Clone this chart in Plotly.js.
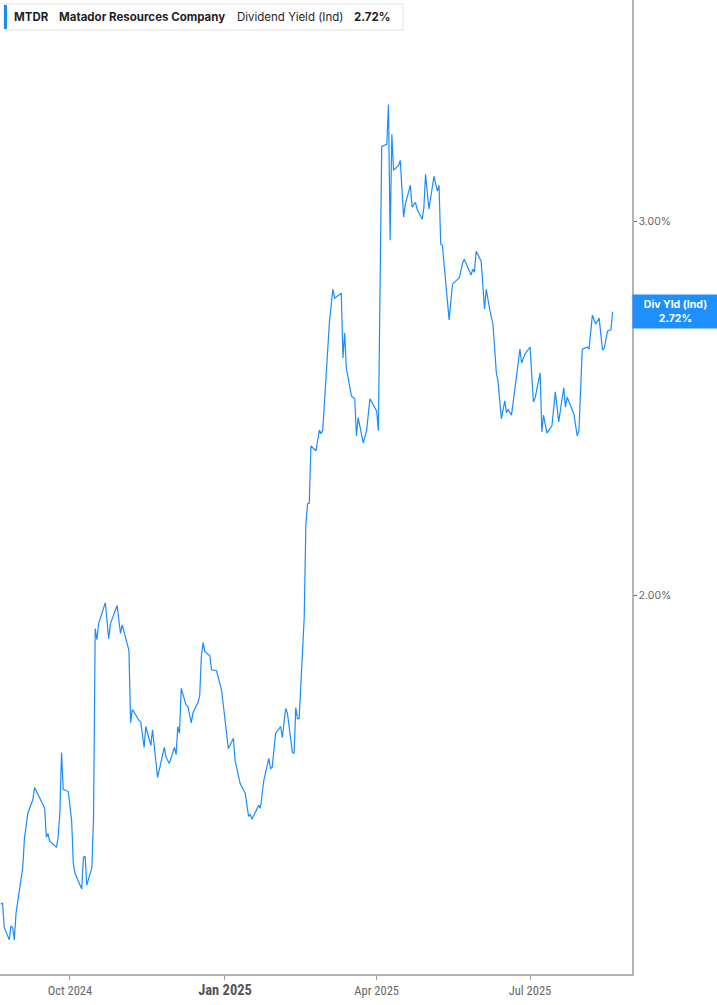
<!DOCTYPE html>
<html>
<head>
<meta charset="utf-8">
<script src="https://cdn.plot.ly/plotly-3.0.1.min.js"></script>
<style>
  html, body { margin: 0; padding: 0; background: #fff; }
  #chart { width: 717px; height: 1005px; }
</style>
</head>
<body>
<div id="chart"></div>
<script>
// MTDR dividend yield (indicated)
const dates = [
  "2024-08-21","2024-08-22","2024-08-23","2024-08-26","2024-08-27","2024-08-28","2024-08-29","2024-08-30",
  "2024-09-03","2024-09-04","2024-09-06","2024-09-09","2024-09-10","2024-09-16","2024-09-17","2024-09-18",
  "2024-09-19","2024-09-20","2024-09-23","2024-09-24","2024-09-25","2024-09-26","2024-09-27","2024-09-30",
  "2024-10-02","2024-10-03","2024-10-04","2024-10-08","2024-10-09","2024-10-10","2024-10-11","2024-10-14",
  "2024-10-15","2024-10-16","2024-10-17","2024-10-18","2024-10-22","2024-10-24","2024-10-25","2024-10-29",
  "2024-10-31","2024-11-01","2024-11-05","2024-11-06","2024-11-07","2024-11-08","2024-11-11","2024-11-12",
  "2024-11-14","2024-11-15","2024-11-18","2024-11-19","2024-11-22","2024-11-26","2024-11-27","2024-11-29",
  "2024-12-02","2024-12-03","2024-12-04","2024-12-05","2024-12-06","2024-12-09","2024-12-10","2024-12-12",
  "2024-12-13","2024-12-16","2024-12-17","2024-12-18","2024-12-19","2024-12-20","2024-12-23","2024-12-24",
  "2024-12-27","2024-12-30","2025-01-03","2025-01-06","2025-01-07","2025-01-10","2025-01-13","2025-01-15",
  "2025-01-16","2025-01-17","2025-01-21","2025-01-22","2025-01-24","2025-01-27","2025-01-28","2025-01-29",
  "2025-01-31","2025-02-03","2025-02-04","2025-02-06","2025-02-07","2025-02-10","2025-02-11","2025-02-12",
  "2025-02-13","2025-02-14","2025-02-17","2025-02-18","2025-02-19","2025-02-20","2025-02-21","2025-02-24",
  "2025-02-26","2025-02-27","2025-02-28","2025-03-04","2025-03-06","2025-03-07","2025-03-11","2025-03-12",
  "2025-03-13","2025-03-14","2025-03-17","2025-03-19","2025-03-20","2025-03-21","2025-03-24","2025-03-26",
  "2025-03-28","2025-03-31","2025-04-01","2025-04-02","2025-04-04","2025-04-07","2025-04-08","2025-04-09",
  "2025-04-10","2025-04-11","2025-04-14","2025-04-15","2025-04-17","2025-04-18","2025-04-21","2025-04-22",
  "2025-04-24","2025-04-25","2025-04-28","2025-04-29","2025-04-30","2025-05-02","2025-05-05","2025-05-07",
  "2025-05-08","2025-05-09","2025-05-10","2025-05-12","2025-05-14","2025-05-16","2025-05-20","2025-05-22",
  "2025-05-23","2025-05-27","2025-05-28","2025-05-29","2025-05-30","2025-06-02","2025-06-04","2025-06-05",
  "2025-06-07","2025-06-09","2025-06-11","2025-06-12","2025-06-14","2025-06-16","2025-06-17","2025-06-18",
  "2025-06-20","2025-06-23","2025-06-25","2025-06-26","2025-06-28","2025-07-01","2025-07-03","2025-07-04",
  "2025-07-07","2025-07-08","2025-07-09","2025-07-11","2025-07-14","2025-07-16","2025-07-18","2025-07-21",
  "2025-07-22","2025-07-23","2025-07-25","2025-07-27","2025-07-29","2025-07-30","2025-08-01","2025-08-04",
  "2025-08-05","2025-08-07","2025-08-09","2025-08-11","2025-08-13","2025-08-14","2025-08-16","2025-08-18",
  "2025-08-19"
];

const divYield = [
  1.432,1.434,1.397,1.378,1.399,1.397,1.378,1.418,
  1.490,1.538,1.580,1.604,1.625,1.589,1.540,1.546,
  1.533,1.531,1.523,1.540,1.580,1.688,1.622,1.618,
  1.568,1.497,1.481,1.456,1.507,1.508,1.462,1.490,
  1.573,1.930,1.907,1.940,1.985,1.909,1.940,1.979,
  1.920,1.938,1.885,1.743,1.768,1.764,1.747,1.745,
  1.697,1.736,1.701,1.730,1.643,1.697,1.679,1.668,
  1.697,1.684,1.736,1.723,1.809,1.776,1.774,1.743,
  1.762,1.782,1.795,1.874,1.901,1.883,1.874,1.846,
  1.844,1.805,1.695,1.714,1.673,1.632,1.615,1.575,
  1.578,1.570,1.594,1.589,1.637,1.677,1.659,1.661,
  1.723,1.736,1.715,1.770,1.762,1.688,1.686,1.772,
  1.751,1.751,1.953,2.162,2.209,2.211,2.352,2.340,
  2.393,2.383,2.393,2.692,2.787,2.760,2.775,2.587,
  2.658,2.559,2.483,2.475,2.378,2.425,2.360,2.391,
  2.475,2.448,2.443,2.391,3.253,3.260,3.404,2.939,
  3.296,3.170,3.187,3.204,3.013,3.056,3.119,3.046,
  3.062,3.039,3.006,3.043,3.156,3.039,3.149,3.099,
  3.119,2.926,2.923,2.806,2.696,2.803,2.821,2.867,
  2.879,2.830,2.848,2.839,2.904,2.873,2.728,2.787,
  2.728,2.684,2.546,2.523,2.422,2.470,2.438,2.446,
  2.432,2.537,2.612,2.573,2.598,2.618,2.467,2.477,
  2.546,2.388,2.432,2.385,2.404,2.494,2.414,2.505,
  2.453,2.480,2.459,2.435,2.378,2.391,2.612,2.618,
  2.612,2.710,2.684,2.701,2.609,2.615,2.664,2.667,
  2.720
];

const xTickVals = ["2024-10-01", "2025-01-01", "2025-04-01", "2025-07-01"];
const xTickText = ["Oct 2024", "<span style=\"font-size:14.5px;font-weight:bold;fill:#555\">Jan 2025</span>", "Apr 2025", "Jul 2025"];
const yTickVals = [2, 3];
const yTickText = ["2.00%", "3.00%"];

const lastValue = divYield[divYield.length - 1];
const lineBlue = "#1a8cff";

const trace = {
  x: dates,
  y: divYield,
  type: "scatter",
  mode: "lines",
  line: { color: lineBlue, width: 1.2 },
  hoverinfo: "skip"
};

// plot area is 632 x 974 px; helpers turn pixels into paper coords
const PW = 632, PH = 974;
const px = (v) => v / PW;
const py = (v) => 1 - v / PH;

const headFont = { family: "Inter, 'Noto Sans', sans-serif", size: 11.5, color: "#1f1f1f" };

const layout = {
  width: 717,
  height: 1005,
  margin: { l: 0, r: 85, t: 0, b: 31, pad: 0 },
  paper_bgcolor: "#ffffff",
  plot_bgcolor: "#ffffff",
  showlegend: false,
  xaxis: {
    type: "date",
    range: ["2024-08-20 12:00", "2025-08-30 12:00"],
    tickvals: xTickVals,
    ticktext: xTickText,
    ticks: "outside",
    ticklen: 4,
    tickcolor: "#999",
    tickfont: { family: "'Liberation Sans Narrow', 'Roboto Condensed', Roboto, sans-serif", size: 12.5, color: "#666" },
    showgrid: false,
    zeroline: false,
    showline: true,
    linecolor: "#b3b3b3",
    linewidth: 1.5,
    fixedrange: true
  },
  yaxis: {
    type: "log",
    side: "right",
    range: [0.1232, 0.5811],
    tickvals: yTickVals,
    ticktext: yTickText,
    ticks: "outside",
    ticklen: 3,
    tickcolor: "#666",
    tickfont: { family: "Inter, 'Noto Sans', sans-serif", size: 10.5, color: "#666" },
    showgrid: false,
    zeroline: false,
    showline: true,
    linecolor: "#b3b3b3",
    linewidth: 1.5,
    fixedrange: true
  },
  shapes: [
    {
      type: "rect", xref: "paper", yref: "paper",
      x0: px(4), x1: px(403), y0: py(4), y1: py(30),
      line: { color: "#e3e3e3", width: 1 },
      fillcolor: "#ffffff", layer: "above"
    },
    {
      type: "rect", xref: "paper", yref: "paper",
      x0: px(4), x1: px(7), y0: py(5), y1: py(29),
      line: { width: 0 },
      fillcolor: lineBlue, layer: "above"
    }
  ],
  annotations: [
    { xref: "paper", yref: "paper", x: px(12), y: py(17), xanchor: "left", yanchor: "middle",
      text: "<b>MTDR</b>", showarrow: false, font: headFont },
    { xref: "paper", yref: "paper", x: px(57), y: py(17), xanchor: "left", yanchor: "middle",
      text: "<b>Matador Resources Company</b>", showarrow: false, font: headFont },
    { xref: "paper", yref: "paper", x: px(235), y: py(17), xanchor: "left", yanchor: "middle",
      text: "Dividend Yield (Ind)", showarrow: false, font: headFont },
    { xref: "paper", yref: "paper", x: px(352), y: py(17), xanchor: "left", yanchor: "middle",
      text: "<b>" + lastValue.toFixed(2) + "%</b>", showarrow: false, font: headFont },
    {
      xref: "paper", yref: "y", x: 1, y: Math.log10(lastValue),
      xanchor: "left", yanchor: "middle",
      text: "<b>Div Yld (Ind)</b><br><b>" + lastValue.toFixed(2) + "%</b>",
      showarrow: false,
      bgcolor: "#1e8fff",
      borderpad: 3,
      width: 79,
      height: 27,
      align: "center",
      font: { family: "Inter, 'Noto Sans', sans-serif", size: 10.5, color: "#ffffff" }
    }
  ]
};

Plotly.newPlot("chart", [trace], layout, { displayModeBar: false, staticPlot: true });
</script>
</body>
</html>
